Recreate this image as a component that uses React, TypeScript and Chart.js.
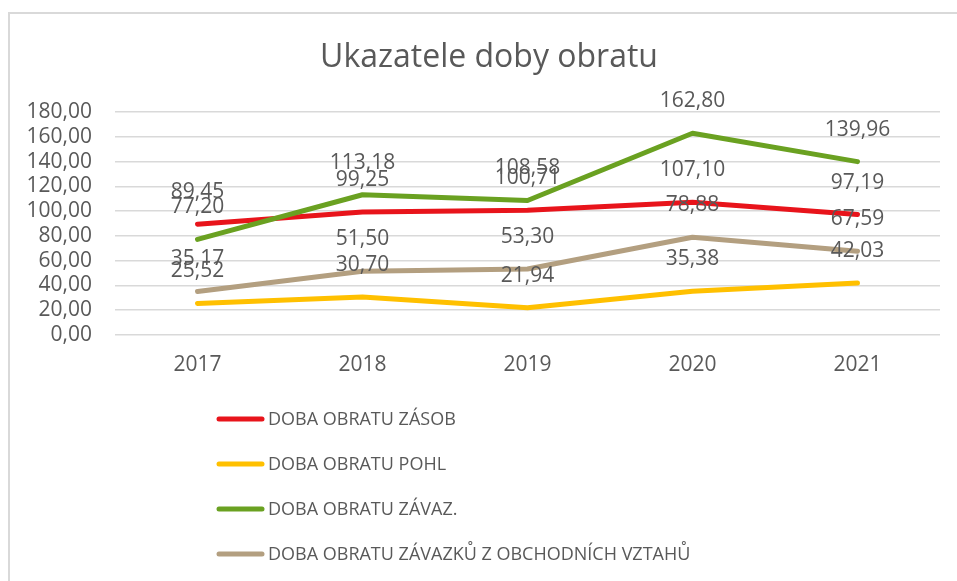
import React, { useEffect, useRef } from 'react';
import { Chart, registerables } from 'chart.js';

Chart.register(...registerables);

const titleText = 'Ukazatele doby obratu';
const categories = ['2017', '2018', '2019', '2020', '2021'];
const dobaZasob = [89.45, 99.25, 100.71, 107.1, 97.19];
const dobaPohl = [25.52, 30.7, 21.94, 35.38, 42.03];
const dobaZavaz = [77.2, 113.18, 108.58, 162.8, 139.96];
const dobaZavazkuObch = [35.17, 51.5, 53.3, 78.88, 67.59];
const seriesNames = [
  'DOBA OBRATU ZÁSOB',
  'DOBA OBRATU POHL',
  'DOBA OBRATU ZÁVAZ.',
  'DOBA OBRATU ZÁVAZKŮ Z OBCHODNÍCH VZTAHŮ',
];
const seriesValues = [dobaZasob, dobaPohl, dobaZavaz, dobaZavazkuObch];
const seriesColors = ['#e8141b', '#ffc000', '#6aa121', '#b39f80'];
const yMin = 0;
const yMax = 180;
const yStep = 20;

const FONT = '"Open Sans", sans-serif';
const TEXT = '#595959';
const GRID = '#d9d9d9';

const fmt = (v: number) => v.toFixed(2).replace('.', ',');

const framePlugin = {
  id: 'frame',
  beforeDraw(chart: any) {
    const ctx = chart.ctx;
    ctx.save();
    ctx.strokeStyle = GRID;
    ctx.lineWidth = 2;
    ctx.beginPath();
    ctx.moveTo(9, chart.height);
    ctx.lineTo(9, 13);
    ctx.lineTo(chart.width, 13);
    ctx.stroke();
    ctx.restore();
  },
};

const titlePlugin = {
  id: 'customTitle',
  afterDraw(chart: any) {
    const ctx = chart.ctx;
    ctx.save();
    ctx.font = `32px ${FONT}`;
    ctx.fillStyle = TEXT;
    ctx.textAlign = 'center';
    ctx.textBaseline = 'middle';
    ctx.fillText(titleText, 489, 58);
    ctx.restore();
  },
};

const valueLabelPlugin = {
  id: 'valueLabels',
  afterDatasetsDraw(chart: any) {
    const ctx = chart.ctx;
    ctx.save();
    ctx.font = `21px ${FONT}`;
    ctx.fillStyle = TEXT;
    ctx.textAlign = 'center';
    ctx.textBaseline = 'middle';
    chart.data.datasets.forEach((ds: any, i: number) => {
      const meta = chart.getDatasetMeta(i);
      meta.data.forEach((pt: any, j: number) => {
        ctx.fillText(fmt(ds.data[j]), pt.x, pt.y - 32);
      });
    });
    ctx.restore();
  },
};

const legendPlugin = {
  id: 'customLegend',
  afterDraw(chart: any) {
    const ctx = chart.ctx;
    ctx.save();
    ctx.font = `18px ${FONT}`;
    ctx.textAlign = 'left';
    ctx.textBaseline = 'middle';
    chart.data.datasets.forEach((ds: any, i: number) => {
      const y = 419 + i * 45;
      ctx.strokeStyle = ds.borderColor;
      ctx.lineWidth = 5;
      ctx.lineCap = 'round';
      ctx.beginPath();
      ctx.moveTo(219, y);
      ctx.lineTo(262, y);
      ctx.stroke();
      ctx.fillStyle = TEXT;
      ctx.fillText(ds.label, 268, y + 1);
    });
    ctx.restore();
  },
};

export default function App() {
  const ref = useRef<HTMLCanvasElement>(null);
  useEffect(() => {
    if (!ref.current) return;
    const chart = new Chart(ref.current, {
      type: 'line',
      data: {
        labels: categories,
        datasets: seriesValues.map((vals, i) => ({
          label: seriesNames[i],
          data: vals,
          borderColor: seriesColors[i],
          backgroundColor: seriesColors[i],
          borderWidth: 5,
          borderCapStyle: 'round',
          borderJoinStyle: 'round',
          pointRadius: 0,
          tension: 0,
          fill: false,
          order: seriesValues.length - i,
        })),
      },
      options: {
        responsive: false,
        animation: false,
        layout: {
          autoPadding: false,
          padding: { left: 0, right: 17, top: 112, bottom: 196 },
        },
        plugins: {
          legend: { display: false },
          tooltip: { enabled: false },
          title: { display: false },
        },
        scales: {
          x: {
            offset: true,
            grid: { display: false, drawTicks: false },
            border: { display: false },
            ticks: {
              color: TEXT,
              font: { family: FONT, size: 21 },
              padding: 17,
              maxRotation: 0,
              autoSkip: false,
            },
            afterFit: (scale: any) => {
              scale.height = 50;
            },
          },
          y: {
            min: yMin,
            max: yMax,
            grid: { color: GRID, lineWidth: 1.5, drawTicks: false },
            border: { display: false },
            ticks: {
              stepSize: yStep,
              autoSkip: false,
              color: TEXT,
              font: { family: FONT, size: 21, lineHeight: 1 },
              padding: 23,
              callback: (v: any) => fmt(Number(v)),
            },
            afterFit: (scale: any) => {
              scale.width = 115;
            },
          },
        },
      },
      plugins: [framePlugin, valueLabelPlugin, legendPlugin, titlePlugin],
    } as any);
    return () => chart.destroy();
  }, []);
  return (
    <div style={{ position: 'absolute', left: 0, top: 0, width: 957, height: 581, background: '#fff' }}>
      <canvas ref={ref} width={957} height={581} style={{ display: 'block' }} />
    </div>
  );
}
